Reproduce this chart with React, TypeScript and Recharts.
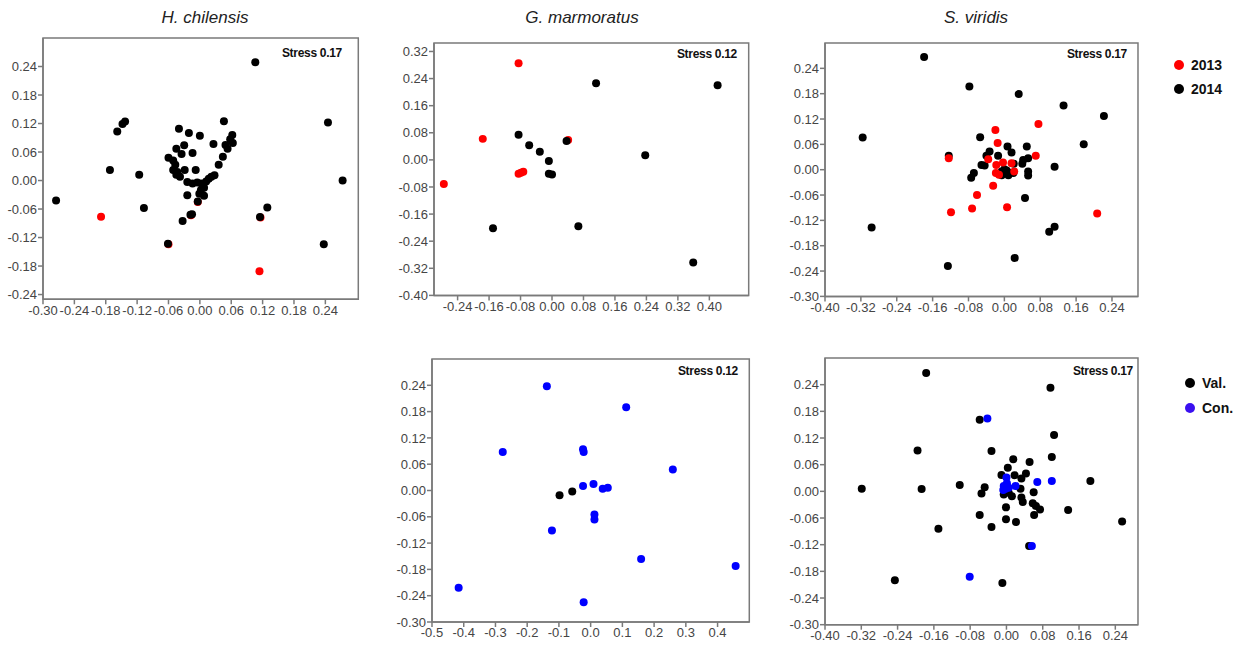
import React from 'react';
import { ScatterChart, Scatter, XAxis, YAxis, ReferenceArea } from 'recharts';

type Pt = [number, number];

// ---------- H. chilensis (year) ----------
const hChil2013: Pt[] = [
  [-0.189, -0.076], [0.114, -0.191], [-0.060, -0.134], [0.116, -0.078], [-0.004, -0.045], [-0.017, -0.073],
];
const hChil2014: Pt[] = [
  [0.106, 0.249], [0.245, 0.122], [0.273, 0.0], [0.237, -0.134], [0.129, -0.057], [0.115, -0.077],
  [-0.275, -0.042], [-0.172, 0.022], [-0.158, 0.103], [-0.148, 0.119], [-0.143, 0.124], [-0.116, 0.012],
  [-0.107, -0.058], [-0.061, -0.133], [-0.033, -0.085], [-0.018, -0.072], [-0.015, -0.071], [-0.004, -0.044],
  [-0.024, -0.031], [-0.040, 0.109], [-0.021, 0.100], [0.0, 0.094], [-0.030, 0.074], [-0.045, 0.067],
  [-0.035, 0.056], [-0.014, 0.058], [-0.060, 0.048], [-0.051, 0.042], [-0.047, 0.033], [-0.051, 0.022],
  [-0.045, 0.012], [-0.038, 0.008], [-0.043, 0.018], [-0.029, 0.022], [-0.008, 0.022], [-0.024, -0.003],
  [-0.014, -0.006], [-0.005, -0.004], [0.003, -0.006], [0.008, -0.015], [0.002, -0.020], [-0.001, -0.028],
  [0.008, -0.032], [0.012, -0.002], [0.017, 0.004], [0.022, 0.008], [0.028, 0.011], [0.026, 0.077],
  [0.036, 0.033], [0.044, 0.050], [0.046, 0.125], [0.049, 0.075], [0.053, 0.067], [0.058, 0.087],
  [0.062, 0.096], [0.063, 0.079],
];

// ---------- G. marmoratus (year) ----------
const gMar2013: Pt[] = [
  [-0.085, 0.285], [-0.176, 0.062], [-0.275, -0.071], [-0.085, -0.041], [-0.079, -0.038], [-0.073, -0.035],
  [0.041, 0.059],
];
const gMar2014: Pt[] = [
  [0.112, 0.226], [0.421, 0.220], [-0.085, 0.074], [-0.058, 0.043], [-0.031, 0.024], [-0.008, -0.003],
  [0.037, 0.056], [-0.008, -0.041], [0.0, -0.043], [0.237, 0.014], [-0.150, -0.202], [0.067, -0.196],
  [0.359, -0.303],
];

// ---------- S. viridis (year) ----------
const sVir2014: Pt[] = [
  [-0.179, 0.267], [-0.078, 0.197], [0.032, 0.179], [0.132, 0.152], [0.222, 0.127], [-0.316, 0.076],
  [-0.054, 0.077], [0.177, 0.060], [-0.124, 0.033], [-0.296, -0.137], [-0.126, -0.228], [0.023, -0.209],
  [0.100, -0.147], [0.112, -0.135], [0.112, 0.007], [0.046, -0.067], [0.050, 0.055], [0.053, 0.027],
  [0.042, 0.023], [0.040, 0.014], [0.053, -0.004], [0.053, -0.014], [0.007, 0.055], [0.016, 0.041],
  [-0.033, 0.043], [-0.040, 0.033], [-0.014, 0.033], [-0.051, 0.011], [-0.044, 0.010], [-0.068, -0.008],
  [-0.074, -0.019], [-0.006, -0.004], [0.001, -0.008], [0.005, -0.002], [0.012, -0.007], [0.0, 0.001],
  [0.021, 0.014], [0.020, -0.008], [-0.006, -0.013], [0.009, -0.013],
];
const sVir2013: Pt[] = [
  [0.076, 0.108], [-0.020, 0.094], [-0.015, 0.063], [0.070, 0.033], [-0.124, 0.027], [-0.036, 0.025],
  [-0.018, 0.011], [-0.003, 0.017], [0.016, 0.015], [-0.019, -0.008], [-0.012, -0.012], [0.022, -0.004],
  [-0.025, -0.038], [-0.061, -0.060], [-0.072, -0.092], [-0.119, -0.101], [0.006, -0.089], [0.207, -0.104],
];

// ---------- G. marmoratus (site) ----------
const gMarCon: Pt[] = [
  [-0.138, 0.238], [0.112, 0.190], [-0.277, 0.088], [-0.024, 0.094], [-0.022, 0.088], [0.259, 0.048],
  [-0.024, 0.010], [0.009, 0.015], [0.038, 0.004], [0.054, 0.006], [0.012, -0.055], [0.012, -0.066],
  [-0.122, -0.091], [0.159, -0.156], [0.457, -0.172], [-0.416, -0.222], [-0.022, -0.255],
];
const gMarVal: Pt[] = [
  [-0.098, -0.011], [-0.058, -0.002],
];

// ---------- S. viridis (site) ----------
const sVirVal: Pt[] = [
  [-0.177, 0.266], [0.097, 0.233], [-0.059, 0.161], [0.105, 0.127], [-0.196, 0.092], [-0.033, 0.091],
  [0.100, 0.077], [-0.319, 0.006], [-0.187, 0.005], [-0.103, 0.014], [-0.048, 0.009], [-0.055, -0.005],
  [-0.150, -0.084], [-0.059, -0.053], [-0.033, -0.080], [0.185, 0.023], [0.136, -0.042], [0.255, -0.068],
  [-0.246, -0.200], [-0.009, -0.206], [0.051, 0.066], [0.015, 0.072], [0.003, 0.053], [-0.011, 0.037],
  [0.018, 0.036], [0.043, 0.040], [0.033, 0.029], [0.031, 0.006], [0.060, -0.002], [0.033, -0.014],
  [0.036, -0.024], [0.058, -0.027], [0.065, -0.033], [0.074, -0.041], [0.061, -0.053], [-0.001, -0.036],
  [-0.001, -0.063], [0.021, -0.069], [0.050, -0.123], [0.005, -0.003], [0.012, -0.011], [-0.006, -0.007],
];
const sVirCon: Pt[] = [
  [-0.042, 0.164], [0.068, 0.021], [0.100, 0.023], [0.056, -0.123], [-0.081, -0.192], [0.0, 0.031],
  [-0.006, 0.012], [-0.002, 0.006], [0.005, 0.008], [0.020, 0.012], [-0.007, 0.003], [0.001, 0.018],
];

// ---------- ticks ----------
const hChilXTicks = [-0.30, -0.24, -0.18, -0.12, -0.06, 0.0, 0.06, 0.12, 0.18, 0.24];
const hChilYTicks = [-0.24, -0.18, -0.12, -0.06, 0.0, 0.06, 0.12, 0.18, 0.24];
const gMarXTicks = [-0.24, -0.16, -0.08, 0.0, 0.08, 0.16, 0.24, 0.32, 0.40];
const gMarYTicks = [-0.40, -0.32, -0.24, -0.16, -0.08, 0.0, 0.08, 0.16, 0.24, 0.32];
const sVirXTicks = [-0.40, -0.32, -0.24, -0.16, -0.08, 0.0, 0.08, 0.16, 0.24];
const sVirYTicks = [-0.30, -0.24, -0.18, -0.12, -0.06, 0.0, 0.06, 0.12, 0.18, 0.24];
const gMarSiteXTicks = [-0.5, -0.4, -0.3, -0.2, -0.1, 0.0, 0.1, 0.2, 0.3, 0.4];
const gMarSiteYTicks = [-0.30, -0.24, -0.18, -0.12, -0.06, 0.0, 0.06, 0.12, 0.18, 0.24];

const RED = '#ff0000';
const BLACK = '#000000';
const BLUE = '#0000ff';

const toObj = (pts: Pt[]) => pts.map(([x, y]) => ({ x, y }));

const YW = 46;
const XH = 26;
const MR = 2;
const MT = 2;
const FONT = '"Liberation Sans", Arial, sans-serif';

type Series = { name: string; color: string; data: Pt[] };

function Panel(props: {
  box: [number, number, number, number];
  xDomain: [number, number];
  yDomain: [number, number];
  xTicks: number[];
  yTicks: number[];
  xDigits: number;
  series: Series[];
}) {
  const { box, xDomain, yDomain, xTicks, yTicks, xDigits, series } = props;
  const [L, T, R, B] = box;
  const pw = R - L;
  const ph = B - T;
  const w = YW + pw + MR;
  const h = MT + ph + XH;
  const tickStyle = { fontSize: 13, fill: '#454545', fontFamily: FONT };
  return (
    <div style={{ position: 'absolute', left: L - YW, top: T - MT, width: w, height: h }}>
      <ScatterChart width={w} height={h} margin={{ top: MT, right: MR, bottom: 0, left: 0 }}>
        <XAxis
          type="number"
          dataKey="x"
          domain={xDomain}
          ticks={xTicks}
          interval={0}
          allowDataOverflow
          height={XH}
          tickFormatter={(v: number) => v.toFixed(xDigits)}
          tick={tickStyle}
          tickSize={5}
          tickMargin={1}
          stroke="#7a7a7a"
          strokeWidth={1.5}
        />
        <YAxis
          type="number"
          dataKey="y"
          domain={yDomain}
          ticks={yTicks}
          interval={0}
          allowDataOverflow
          width={YW}
          tickFormatter={(v: number) => v.toFixed(2)}
          tick={tickStyle}
          tickSize={5}
          tickMargin={1}
          stroke="#7a7a7a"
          strokeWidth={1.5}
        />
        <ReferenceArea
          x1={xDomain[0]}
          x2={xDomain[1]}
          y1={yDomain[0]}
          y2={yDomain[1]}
          fill="none"
          fillOpacity={0}
          stroke="#7a7a7a"
          strokeWidth={1.5}
          ifOverflow="visible"
        />
        {series.map((s) => (
          <Scatter
            key={s.name}
            name={s.name}
            data={toObj(s.data)}
            fill={s.color}
            isAnimationActive={false}
            shape={(p: any) => <circle cx={p.cx} cy={p.cy} r={4} fill={s.color} />}
          />
        ))}
      </ScatterChart>
    </div>
  );
}

function Stress(props: { text: string; right: number; cy: number }) {
  return (
    <div
      style={{
        position: 'absolute',
        left: props.right - 80,
        width: 80,
        top: props.cy - 8,
        height: 16,
        lineHeight: '16px',
        textAlign: 'right',
        fontFamily: FONT,
        fontWeight: 'bold',
        fontSize: 12,
        color: '#111',
        letterSpacing: -0.3,
      }}
    >
      {props.text}
    </div>
  );
}

function Title(props: { text: string; cx: number }) {
  return (
    <div
      style={{
        position: 'absolute',
        left: props.cx - 100,
        width: 200,
        top: 7,
        height: 22,
        lineHeight: '22px',
        textAlign: 'center',
        fontFamily: FONT,
        fontStyle: 'italic',
        fontSize: 17,
        color: '#222',
      }}
    >
      {props.text}
    </div>
  );
}

function LegendItem(props: { color: string; label: string; cx: number; cy: number }) {
  return (
    <>
      <div
        style={{
          position: 'absolute',
          left: props.cx - 5,
          top: props.cy - 5,
          width: 10,
          height: 10,
          borderRadius: 5,
          background: props.color,
        }}
      />
      <div
        style={{
          position: 'absolute',
          left: props.cx + 12,
          top: props.cy - 9,
          height: 18,
          lineHeight: '18px',
          fontFamily: FONT,
          fontWeight: 'bold',
          fontSize: 14,
          color: '#111',
        }}
      >
        {props.label}
      </div>
    </>
  );
}

export default function App() {
  return (
    <div style={{ position: 'absolute', left: 0, top: 0, width: 1244, height: 649, background: '#fff', overflow: 'hidden' }}>
      <Title text="H. chilensis" cx={205} />
      <Title text="G. marmoratus" cx={582} />
      <Title text="S. viridis" cx={976} />

      <Panel
        box={[42.7, 38, 358, 299.3]}
        xDomain={[-0.30, 0.303]}
        yDomain={[-0.25, 0.30]}
        xTicks={hChilXTicks}
        yTicks={hChilYTicks}
        xDigits={2}
        series={[
          { name: '2013', color: RED, data: hChil2013 },
          { name: '2014', color: BLACK, data: hChil2014 },
        ]}
      />
      <Stress text="Stress 0.17" right={342} cy={53} />

      <Panel
        box={[434.3, 43.3, 749, 295.7]}
        xDomain={[-0.30, 0.50]}
        yDomain={[-0.40, 0.345]}
        xTicks={gMarXTicks}
        yTicks={gMarYTicks}
        xDigits={2}
        series={[
          { name: '2013', color: RED, data: gMar2013 },
          { name: '2014', color: BLACK, data: gMar2014 },
        ]}
      />
      <Stress text="Stress 0.12" right={737} cy={54} />

      <Panel
        box={[825, 43.3, 1138, 296.7]}
        xDomain={[-0.40, 0.298]}
        yDomain={[-0.30, 0.30]}
        xTicks={sVirXTicks}
        yTicks={sVirYTicks}
        xDigits={2}
        series={[
          { name: '2014', color: BLACK, data: sVir2014 },
          { name: '2013', color: RED, data: sVir2013 },
        ]}
      />
      <Stress text="Stress 0.17" right={1127} cy={54} />

      <Panel
        box={[431.7, 359.3, 749, 622.3]}
        xDomain={[-0.5, 0.5]}
        yDomain={[-0.30, 0.30]}
        xTicks={gMarSiteXTicks}
        yTicks={gMarSiteYTicks}
        xDigits={1}
        series={[
          { name: 'Val.', color: BLACK, data: gMarVal },
          { name: 'Con.', color: BLUE, data: gMarCon },
        ]}
      />
      <Stress text="Stress 0.12" right={738} cy={371} />

      <Panel
        box={[825, 358.3, 1138, 625]}
        xDomain={[-0.40, 0.29]}
        yDomain={[-0.30, 0.30]}
        xTicks={sVirXTicks}
        yTicks={sVirYTicks}
        xDigits={2}
        series={[
          { name: 'Val.', color: BLACK, data: sVirVal },
          { name: 'Con.', color: BLUE, data: sVirCon },
        ]}
      />
      <Stress text="Stress 0.17" right={1133} cy={371} />

      <LegendItem color={RED} label="2013" cx={1179} cy={65} />
      <LegendItem color={BLACK} label="2014" cx={1179} cy={89} />
      <LegendItem color={BLACK} label="Val." cx={1190} cy={383} />
      <LegendItem color="#3a10f0" label="Con." cx={1190} cy={408} />
    </div>
  );
}
